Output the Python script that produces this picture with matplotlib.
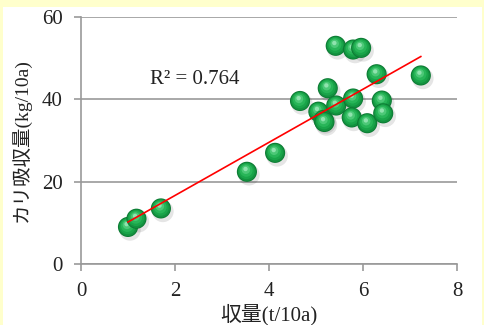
import numpy as np
import matplotlib
matplotlib.use('Agg')
import matplotlib.pyplot as plt
import matplotlib.transforms as mtransforms
from matplotlib.patches import Rectangle

# 収量 (t/10a) and カリ吸収量 (kg/10a)
yield_t = [1.00, 1.18, 1.70, 3.53, 4.13, 4.66, 5.05, 5.16, 5.18, 5.25, 5.43,
           5.42, 5.79, 5.96, 5.79, 5.76, 6.09, 6.29, 6.40, 6.43, 7.23]
k_uptake = [9.0, 11.0, 13.5, 22.4, 27.0, 39.6, 37.0, 35.0, 34.5, 42.7, 38.5,
            53.0, 52.1, 52.5, 40.2, 35.6, 34.2, 46.1, 39.7, 36.6, 45.8]
r2_text = 'R² = 0.764'
x_ticks = [0, 2, 4, 6, 8]
y_ticks = [0, 20, 40, 60]

plt.rcParams['font.family'] = ['Liberation Serif', 'Noto Sans CJK JP']

fig = plt.figure(figsize=(4.85, 3.25), dpi=100)
fig.patch.set_facecolor('#FFFFCC')
fig.add_artist(Rectangle((3 / 485, 0), 479 / 485, 318 / 325,
                         transform=fig.transFigure, facecolor='white',
                         edgecolor='none', zorder=-10))

ax = fig.add_axes([81 / 485, 61 / 325, 376 / 485, 247 / 325])
ax.set_facecolor('none')
ax.set_xlim(0, 8)
ax.set_ylim(0, 60)
ax.set_xticks(x_ticks)
ax.set_yticks(y_ticks)
ax.grid(axis='y', color='#999999', linewidth=1.2)
ax.set_axisbelow(True)
for s in ['top', 'right']:
    ax.spines[s].set_visible(False)
for s in ['left', 'bottom']:
    ax.spines[s].set_color('#999999')
    ax.spines[s].set_linewidth(1.2)
ax.tick_params(colors='#999999', length=5, width=1.2, labelsize=15,
               labelcolor='#222222')
ax.tick_params(axis='y', pad=8)
ax.tick_params(axis='x', pad=8)

x = np.array(yield_t)
y = np.array(k_uptake)

# sphere-like markers drawn from layered circles
shadow = mtransforms.offset_copy(ax.transData, fig=fig, x=2, y=-3, units='dots')
ax.scatter(x, y, s=240, color='#000000', alpha=0.10, edgecolors='none',
           transform=shadow, zorder=2)
for xi, yi in zip(x, y):
    ax.scatter([xi], [yi], s=210, color='#0C7A33', edgecolors='none', zorder=3)
    for k, (sz, col) in enumerate([(175, '#13913F'), (135, '#19A449'),
                                   (85, '#28B558'), (38, '#4CC877'),
                                   (10, '#8FE3AE')]):
        tr = mtransforms.offset_copy(ax.transData, fig=fig, x=-0.35 * k,
                                     y=0.7 * k, units='dots')
        ax.scatter([xi], [yi], s=sz, color=col, edgecolors='none',
                   transform=tr, zorder=3)

coef = np.polyfit(x, y, 1)
xs = np.array([x.min(), x.max()])
ax.plot(xs, np.polyval(coef, xs), color='#FF0000', linewidth=1.2, zorder=4)

ax.text(1.47, 44.7, r2_text, fontsize=15, color='#222222', va='center')

ax.set_xlabel('収量(t/10a)', fontsize=15, color='#222222', labelpad=2)
ax.set_ylabel('カリ吸収量(kg/10a)', fontsize=14, color='#222222', labelpad=8)

fig.savefig('out.png', dpi=100, facecolor=fig.get_facecolor())
